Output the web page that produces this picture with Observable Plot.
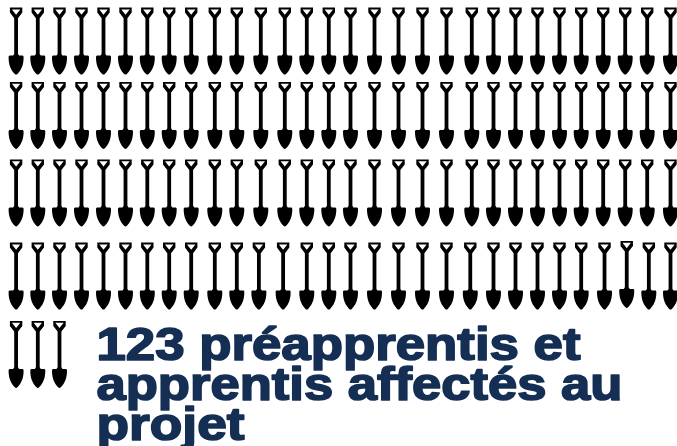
<!DOCTYPE html>
<html>
<head>
<meta charset="utf-8">
<style>html,body{margin:0;padding:0;background:#fff}svg{display:block}</style>
<script src="https://cdn.jsdelivr.net/npm/d3@7"></script>
<script src="https://cdn.jsdelivr.net/npm/@observablehq/plot@0.6"></script>
</head>
<body>
<div id="chart"></div>
<script>
const total = 123;
const perRow = 30;
const columns = d3.range(1, perRow + 1);
const rows = [1, 2, 3, 4, 5];
const titleLines = ["123 préapprentis et", "apprentis affectés au", "projet"];

// Small misalignments of single pictograms in the fourth row: [column, shift in columns, shift in rows]
const fourthRowShifts = [[12, -0.08, 0], [13, -0.07, 0], [21, -0.06, 0], [27, 0.06, 0], [28, 0.07, -0.02], [29, 0.07, 0]];

const units = d3.range(total).map(i => {
  const row = Math.floor(i / perRow) + 1, col = (i % perRow) + 1;
  const s = row === 4 ? fourthRowShifts.find(d => d[0] === col) : null;
  return {col: col + (s ? s[1] : 0), row: row + (s ? s[2] : 0)};
});

// Pictogram: grip with a triangular hole, shaft and pointed blade
const shovel = {
  draw(c) {
    c.moveTo(-6.2, -33.6);
    c.lineTo(6.2, -33.6);
    c.lineTo(6.2, -28.6);
    c.lineTo(1.9, -23);
    c.lineTo(1.9, 12.8);
    c.lineTo(3, 14.4);
    c.lineTo(6.4, 14.4);
    c.quadraticCurveTo(7.6, 14.4, 7.5, 16);
    c.bezierCurveTo(7.6, 24.5, 4.6, 29.5, 1.3, 32.8);
    c.quadraticCurveTo(0, 34, -1.3, 32.8);
    c.bezierCurveTo(-4.6, 29.5, -7.6, 24.5, -7.5, 16);
    c.quadraticCurveTo(-7.6, 14.4, -6.4, 14.4);
    c.lineTo(-3, 14.4);
    c.lineTo(-1.9, 12.8);
    c.lineTo(-1.9, -23);
    c.lineTo(-6.2, -28.6);
    c.closePath();
    // hole, wound the other way
    c.moveTo(-4.2, -31.8);
    c.lineTo(0, -26.4);
    c.lineTo(4.2, -31.8);
    c.closePath();
  }
};

const chart = Plot.plot({
  width: 677,
  height: 446,
  margin: 0,
  style: {background: "#fff"},
  x: {type: "linear", axis: null, domain: columns,
      range: [15.6, 37.3, 59, 81, 103, 125, 146.8, 168.7, 190.7, 214.3, 236.3, 260.3, 284.3, 306.3, 328.3, 350, 374, 398, 422, 446, 471.3, 493, 515, 537, 559, 580.7, 602.7, 624.7, 646.7, 670]},
  y: {type: "linear", axis: null, domain: rows, range: [40.7, 115, 192.5, 275.7, 354]},
  marks: [
    Plot.dot(units, {x: "col", y: "row", symbol: shovel, fill: "#000", stroke: "none"}),
    ...titleLines.map((line, i) => Plot.text([line], {
      frameAnchor: "bottom-left",
      dx: 96,
      dy: [-87, -47, -7][i],
      lineAnchor: "bottom",
      text: d => d,
      fontFamily: "Liberation Sans",
      fontWeight: 700,
      fontSize: 46,
      fill: "#142e54",
      stroke: "#142e54",
      strokeWidth: 1.7
    }))
  ]
});
document.getElementById("chart").append(chart);
const widths = [484, 526, 148];
d3.select(chart).selectAll("text").each(function () {
  const i = titleLines.indexOf(this.textContent);
  if (i >= 0) { this.setAttribute("textLength", widths[i]); this.setAttribute("lengthAdjust", "spacingAndGlyphs"); }
});
</script>
</body>
</html>
